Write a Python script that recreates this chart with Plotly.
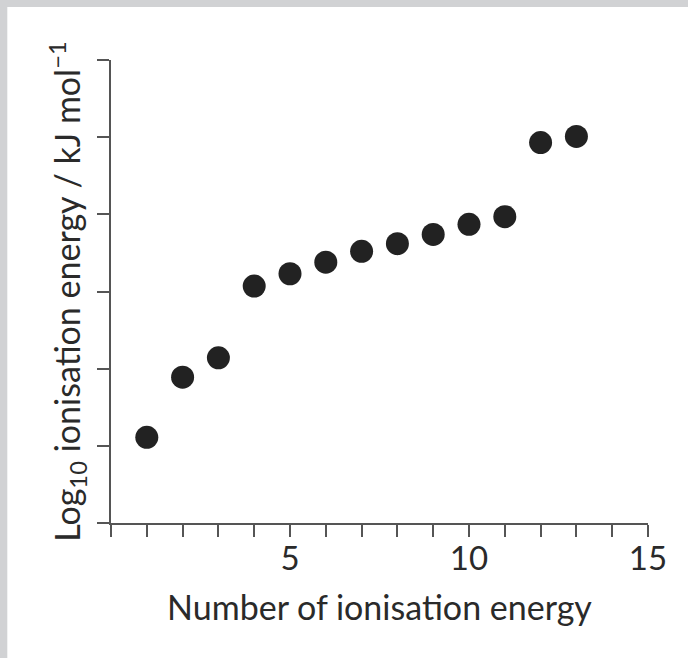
import plotly.graph_objects as go

# Data
ionisation_number = [1, 2, 3, 4, 5, 6, 7, 8, 9, 10, 11, 12, 13]
log_ie = [1.11, 1.89, 2.14, 3.07, 3.23, 3.38, 3.52, 3.62, 3.74, 3.87, 3.97, 4.93, 5.01]
x_label_vals = [5, 10, 15]
y_tick_vals = list(range(0, 7))

W, H = 688, 658
L, R, T, B = 110.7, 40.3, 60, 135.3
pw, ph = W - L - R, H - T - B

def px_x(p):
    return (p - L) / pw

def px_y(p):
    return (H - B - p) / ph

fig = go.Figure()
fig.add_trace(go.Scatter(
    x=ionisation_number, y=log_ie, mode="markers",
    marker=dict(size=23, color="#222222", line=dict(width=0)),
    cliponaxis=False, showlegend=False,
))

font_family = "Lato, 'Open Sans', sans-serif"
axis_col = "#555555"
txt_col = "#2a2a2a"

fig.update_layout(
    width=W, height=H,
    margin=dict(l=L, r=R, t=T, b=B, pad=0),
    paper_bgcolor="#d1d2d4",
    plot_bgcolor="white",
    font=dict(family=font_family, color=txt_col, size=33),
    xaxis=dict(
        range=[0, 15], showline=True, linecolor=axis_col, linewidth=2.2,
        ticks="outside", ticklen=12, tickwidth=2.2, tickcolor=axis_col,
        tickvals=x_label_vals, showgrid=False, zeroline=False,
        ticklabelstandoff=-7,
        minor=dict(dtick=1, tick0=0, ticks="outside", ticklen=12, tickwidth=2.2,
                   tickcolor=axis_col, showgrid=False),
        tickfont=dict(size=33, color=txt_col),
        title=dict(text="Number of ionisation energy", font=dict(size=34, color=txt_col), standoff=20),
    ),
    yaxis=dict(
        range=[0, 6], showline=True, linecolor=axis_col, linewidth=2.2,
        ticks="outside", ticklen=12, tickwidth=2.2, tickcolor=axis_col,
        tickvals=y_tick_vals, showticklabels=False, showgrid=False, zeroline=False,
        title=dict(text="Log<sub>10</sub> ionisation energy / kJ mol<sup>−1</sup>",
                   font=dict(size=34, color=txt_col), standoff=6),
    ),
    shapes=[dict(type="rect", xref="paper", yref="paper", layer="below",
                 x0=px_x(7), x1=px_x(W + 5), y0=px_y(H + 5), y1=px_y(7),
                 fillcolor="white", line=dict(width=0))],
)

fig.write_html("out.html")
